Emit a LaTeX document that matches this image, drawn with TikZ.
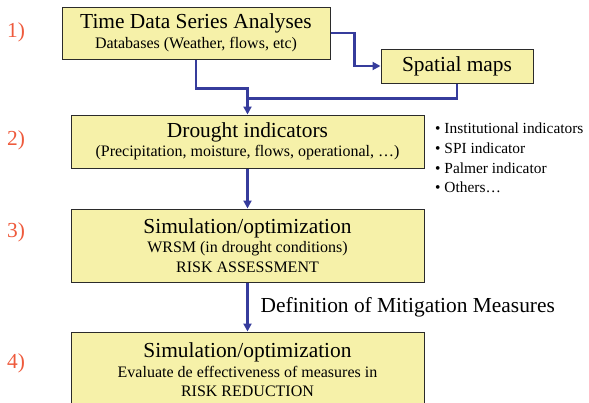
\documentclass[tikz,border=0pt]{standalone}
\usepackage{fontspec}
\setmainfont{Liberation Serif}
\usetikzlibrary{arrows.meta,positioning}
\definecolor{dmBlue}{HTML}{363C9C}
\definecolor{dmYellow}{HTML}{F6F1A9}
\definecolor{dmRed}{HTML}{EE5A3C}
\definecolor{dmEdge}{HTML}{2B2B2B}
\newcommand{\hdtxt}{\fontsize{21.4}{24}\selectfont}
\newcommand{\smtxt}{\fontsize{16}{19.5}\selectfont}
\tikzset{
  >={Triangle[length=8pt,width=8pt]},
  box/.style={draw=dmEdge, line width=1pt, fill=dmYellow,
              align=center, inner sep=2pt, font=\smtxt},
  num/.style={font=\hdtxt, text=dmRed, inner sep=0pt},
  note/.style={font=\fontsize{15.4}{19.6}\selectfont, align=left, inner sep=0pt},
  flow/.style={->, draw=dmBlue, line width=2.4pt},
  joint/.style={draw=dmBlue, line width=2.4pt},
}

\begin{document}
\begin{tikzpicture}[x=1pt,y=-1pt]
  \useasboundingbox (0,0) rectangle (589,402);
  % step boxes
  \node[box,minimum width=268,minimum height=52] (series) at (196,33)
    {{\hdtxt Time Data Series Analyses}\\Databases (Weather, flows, etc)};
  \node[box,minimum width=152,minimum height=34,font=\hdtxt] (maps) at (457,66) {Spatial maps};
  \node[box,minimum width=353,minimum height=53] (drought) at (247.5,141.5)
    {{\hdtxt Drought indicators}\\(Precipitation, moisture, flows, operational, …)};
  \node[box,minimum width=353,minimum height=73] (sim) at (247.5,245.5)
    {{\hdtxt Simulation/optimization}\\WRSM (in drought conditions)\\RISK ASSESSMENT};
  \node[box,minimum width=353,minimum height=76] (eval) at (247.5,370)
    {{\hdtxt Simulation/optimization}\\Evaluate de effectiveness of measures in\\RISK REDUCTION};

  % step numbers
  \node[num] (n1) at (16,32) {1)};
  \node[num] (n2) at (16,140) {2)};
  \node[num] (n3) at (16,232) {3)};
  \node[num] (n4) at (16,363) {4)};

  \node[note,anchor=west] (kinds) at (435,158)
    {• Institutional indicators\\• SPI indicator\\• Palmer indicator\\• Others…};

  % connectors
  \draw[flow] (series.east) -- ++(24,0) |- (maps.west);
  \draw[flow] (series.south) -- ++(0,29) -| (drought.north);
  \draw[joint] (maps.south) |- ([yshift=16pt]drought.north);
  \draw[flow] (drought.south) -- (sim.north);
  \draw[flow] (sim.south) -- node[right,font=\hdtxt,inner sep=0pt,xshift=12pt] (mitig)
    {Definition of Mitigation Measures} (eval.north);
\end{tikzpicture}
\end{document}
